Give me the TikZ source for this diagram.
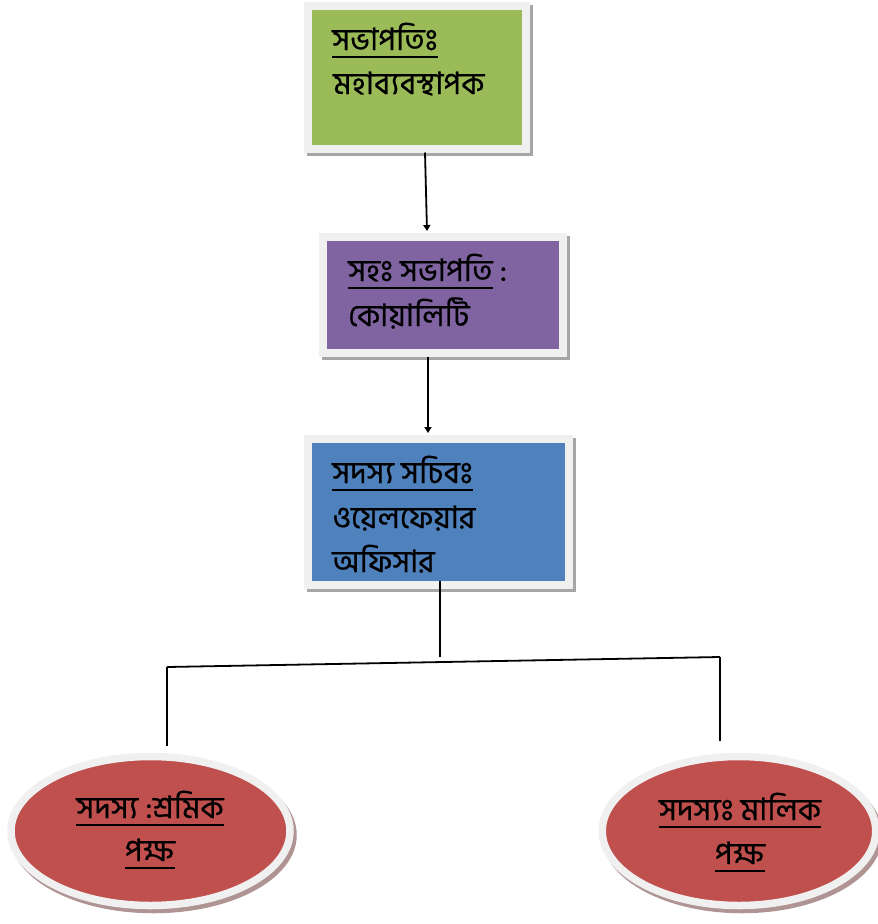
\documentclass[tikz,border=0pt]{standalone}
\usepackage{fontspec}
\newfontfamily\bn[Script=Bengali,FakeBold=0.6]{Hind Siliguri}
\usetikzlibrary{shapes.geometric,arrows.meta}
\definecolor{cgreen}{HTML}{9BBB59}
\definecolor{cpurple}{HTML}{8064A2}
\definecolor{cblue}{HTML}{4F81BD}
\definecolor{cred}{HTML}{C0504D}
\definecolor{framec}{HTML}{F0F0F0}
\definecolor{shadowc}{HTML}{A6A6A6}
\definecolor{eshadowc}{HTML}{B09494}
\newcommand\bnul[1]{\setbox0\hbox{#1}\rlap{\rule[-7.5pt]{\wd0}{2pt}}\box0}
\tikzset{
  boxst/.style={rectangle, inner sep=0pt, draw=framec, line width=8pt,
    preaction={draw=shadowc, fill=shadowc, line width=8pt, transform canvas={shift={(3pt,-3pt)}}}},
  ellst/.style={ellipse, inner sep=0pt, draw=framec, line width=7.5pt,
    preaction={draw=eshadowc, fill=eshadowc, line width=7.5pt, transform canvas={shift={(3pt,-4pt)}}}},
  txt/.style={anchor=base west, inner sep=0pt, font=\bn\fontsize{31}{36}\selectfont},
  ctxt/.style={anchor=base, inner sep=0pt, font=\bn\fontsize{31}{36}\selectfont},
  conn/.style={line width=1.8pt, black},
  arr/.style={conn, -{Triangle[width=7pt,length=6pt]}}
}
\begin{document}
\begin{tikzpicture}[x=1pt,y=-1pt]
\useasboundingbox (0,0) rectangle (878,924);
\fill[white] (0,0) rectangle (878,924);
% boxes
\node[boxst, fill=cgreen, minimum width=218.5pt, minimum height=142.5pt] (b1) at (416.75,77.25) {};
\node[boxst, fill=cpurple, minimum width=239.5pt, minimum height=115.5pt] (b2) at (442.75,294.75) {};
\node[boxst, fill=cblue, minimum width=261pt, minimum height=146pt] (b3) at (438.5,512) {};
% ellipses
\node[ellst, fill=cred, minimum width=279pt, minimum height=149pt] (e1) at (150.5,831) {};
\node[ellst, fill=cred, minimum width=273.5pt, minimum height=149pt] (e2) at (739,831) {};
% texts
\node[txt] (t11) at (332,50) {\bnul{সভাপতিঃ}};
\node[txt] (t12) at (333,94) {মহাব্যবস্থাপক};
\node[txt] (t21) at (348,281) {\bnul{সহঃ সভাপতি}\ :};
\node[txt] (t22) at (348,326) {কোয়ালিটি};
\node[txt] (t31) at (332,483) {\bnul{সদস্য সচিবঃ}};
\node[txt] (t32) at (332,528) {ওয়েলফেয়ার};
\node[txt] (t33) at (332,572) {অফিসার};
\node[ctxt] (t41) at (150,818) {\bnul{সদস্য :শ্রমিক}};
\node[ctxt] (t42) at (150,861) {\bnul{পক্ষ}};
\node[ctxt] (t51) at (740,820) {\bnul{সদস্যঃ মালিক}};
\node[ctxt] (t52) at (740,864) {\bnul{পক্ষ}};
% connectors
\draw[arr] ([xshift=8.25pt]b1.south) -- ([xshift=-15.75pt,yshift=2pt]b2.north);
\draw[arr] ([xshift=-14.75pt]b2.south) -- ([xshift=-10.5pt,yshift=2pt]b3.north);
\coordinate (j) at (440,657);
\coordinate (hl) at (167,667);
\coordinate (hr) at (720,657);
\draw[conn] ([xshift=1.5pt,yshift=8pt]b3.south) -- (j);
\draw[conn] (hl) -- (hr);
\draw[conn] (hl) -- ([xshift=16.5pt,yshift=6.5pt]e1.north);
\draw[conn] (hr) -- ([xshift=-19pt,yshift=11.5pt]e2.north);
\end{tikzpicture}
\end{document}
